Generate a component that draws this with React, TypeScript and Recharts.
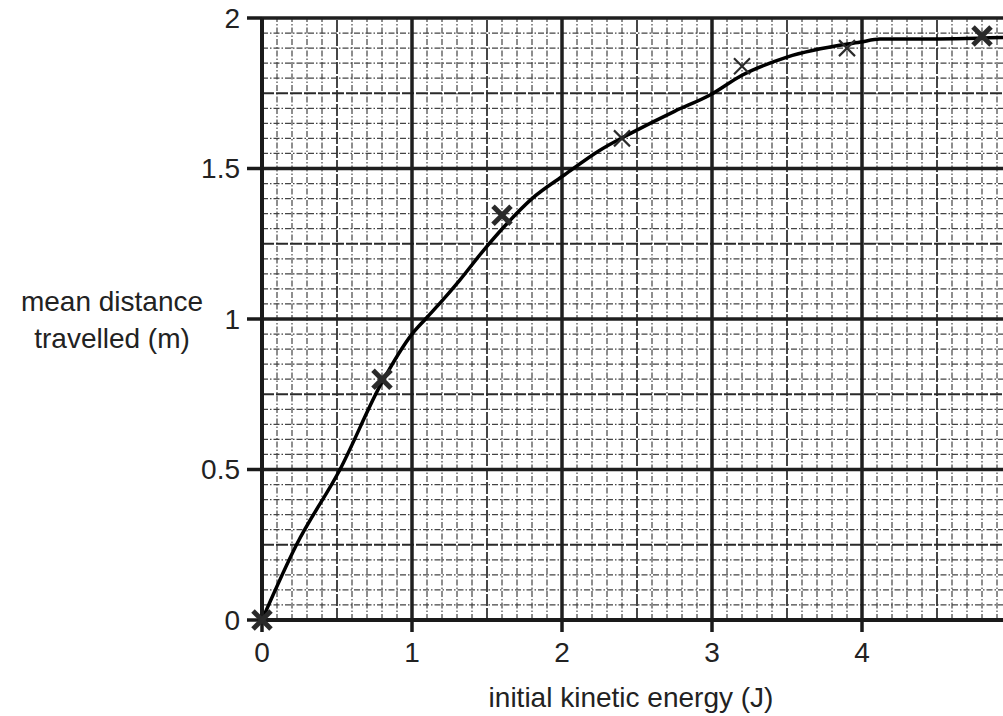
import {
  ComposedChart,
  XAxis,
  YAxis,
  Line,
  Scatter,
  ReferenceLine,
  Label,
} from 'recharts';

// hand-drawn best fit curve
const curveEnergy = [0, 0.23, 0.52, 0.8, 1.0, 1.09, 1.2, 1.32, 1.48, 1.62, 1.8, 2.02, 2.25, 2.47, 2.75, 2.99, 3.2, 3.5, 3.99, 4.12, 4.4, 4.94];
const curveDistance = [0, 0.25, 0.5, 0.79, 0.95, 1.0, 1.06, 1.13, 1.23, 1.31, 1.4, 1.48, 1.56, 1.62, 1.69, 1.745, 1.81, 1.87, 1.92, 1.93, 1.93, 1.935];

// plotted crosses (bold and thin pen)
const boldEnergy = [0, 0.8, 1.6, 4.8];
const boldDistance = [0, 0.8, 1.345, 1.94];
const thinEnergy = [2.4, 3.2, 3.9];
const thinDistance = [1.6, 1.84, 1.9];

const xTicks = [0, 1, 2, 3, 4];
const yTicks = [0, 0.5, 1, 1.5, 2];

const curveData = curveEnergy.map((e, i) => ({ e, d: curveDistance[i] }));
const boldData = boldEnergy.map((e, i) => ({ e, d: boldDistance[i] }));
const thinData = thinEnergy.map((e, i) => ({ e, d: thinDistance[i] }));

// graph paper lines
const vMinor: number[] = [];
const vMid: number[] = [];
const vMajor: number[] = [];
for (let i = 1; i <= 49; i++) {
  const v = i / 10;
  if (i % 10 === 0) vMajor.push(v);
  else if (i % 5 === 0) vMid.push(v);
  else vMinor.push(v);
}
const hMinor: number[] = [];
const hMid: number[] = [];
const hMajor: number[] = [];
for (let i = 1; i <= 40; i++) {
  const v = i / 20;
  if (i % 10 === 0) hMajor.push(v);
  else if (i % 5 === 0) hMid.push(v);
  else hMinor.push(v);
}

const font = "'Liberation Sans', Arial, sans-serif";

const Cross = (size: number, width: number) => (props: any) => {
  const { cx, cy } = props;
  return (
    <g stroke="#2a2a2a" strokeWidth={width} strokeLinecap="butt">
      <line x1={cx - size} y1={cy - size} x2={cx + size} y2={cy + size} />
      <line x1={cx - size} y1={cy + size} x2={cx + size} y2={cy - size} />
    </g>
  );
};

export default function App() {
  return (
    <div style={{ position: 'absolute', left: 0, top: 0, fontFamily: font }}>
      <ComposedChart
        width={1003}
        height={716}
        margin={{ top: 18, right: 0, bottom: 46, left: 202 }}
      >
        <XAxis
          dataKey="e"
          type="number"
          domain={[0, 4.94]}
          ticks={xTicks}
          height={50}
          axisLine={{ stroke: '#1a1a1a', strokeWidth: 4 }}
          tickLine={{ stroke: '#1a1a1a', strokeWidth: 3.5 }}
          tickSize={12}
          tickMargin={10}
          tick={{ fill: '#222', fontSize: 28, fontFamily: font }}
        >
          <Label
            content={({ viewBox }: any) => (
              <text
                x={631}
                y={viewBox.y + 87}
                textAnchor="middle"
                fill="#222"
                fontSize={28}
                fontFamily={font}
              >
                initial kinetic energy (J)
              </text>
            )}
          />
        </XAxis>
        <YAxis
          dataKey="d"
          type="number"
          domain={[0, 2]}
          ticks={yTicks}
          width={60}
          axisLine={{ stroke: '#1a1a1a', strokeWidth: 4 }}
          tickLine={{ stroke: '#1a1a1a', strokeWidth: 3.5 }}
          tickSize={15}
          tickMargin={7}
          tick={{ fill: '#222', fontSize: 28, fontFamily: font }}
        >
          <Label
            content={() => (
              <text textAnchor="middle" fill="#222" fontSize={28} fontFamily={font}>
                <tspan x={112} y={311}>mean distance</tspan>
                <tspan x={112} y={348}>travelled (m)</tspan>
              </text>
            )}
          />
        </YAxis>

        {vMinor.map((v) => (
          <ReferenceLine key={'vn' + v} x={v} stroke="#444" strokeWidth={1.2} strokeDasharray="6 2 1.5 2" />
        ))}
        {hMinor.map((v) => (
          <ReferenceLine key={'hn' + v} y={v} stroke="#444" strokeWidth={1.2} strokeDasharray="6 2 1.5 2" />
        ))}
        {vMid.map((v) => (
          <ReferenceLine key={'vm' + v} x={v} stroke="#333" strokeWidth={1.8} strokeDasharray="12 2" />
        ))}
        {hMid.map((v) => (
          <ReferenceLine key={'hm' + v} y={v} stroke="#2a2a2a" strokeWidth={2.2} strokeDasharray="12 2" />
        ))}
        {vMajor.map((v) => (
          <ReferenceLine key={'vj' + v} x={v} stroke="#1f1f1f" strokeWidth={3.5} />
        ))}
        {hMajor.map((v) => (
          <ReferenceLine key={'hj' + v} y={v} stroke="#1f1f1f" strokeWidth={3.5} />
        ))}

        <Line
          data={curveData}
          dataKey="d"
          type="monotone"
          stroke="#000"
          strokeWidth={3.5}
          dot={false}
          isAnimationActive={false}
        />
        <Scatter data={boldData} dataKey="d" shape={Cross(9, 5)} isAnimationActive={false} />
        <Scatter data={thinData} dataKey="d" shape={Cross(8, 2.2)} isAnimationActive={false} />
      </ComposedChart>
    </div>
  );
}
